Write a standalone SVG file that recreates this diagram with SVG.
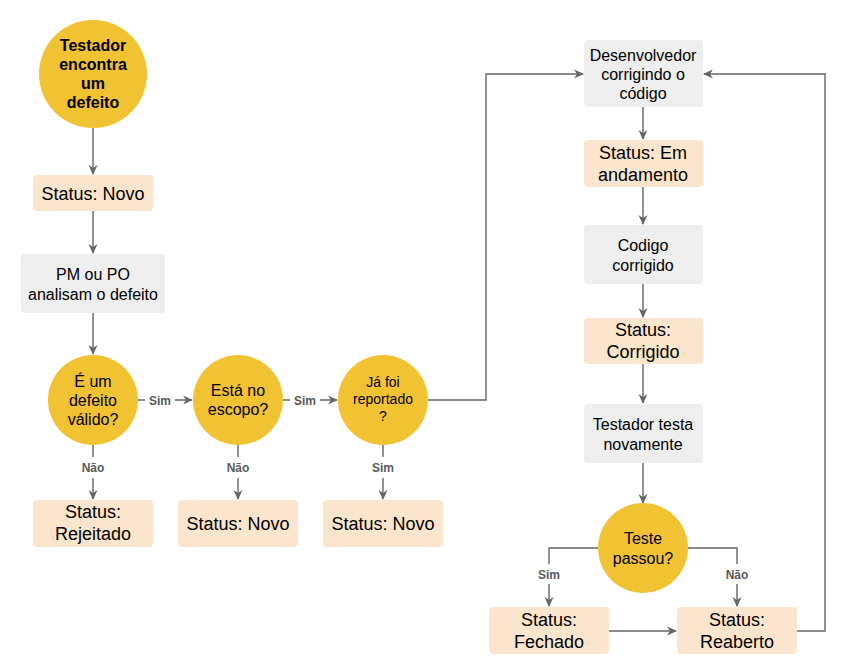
<svg xmlns="http://www.w3.org/2000/svg" width="850" height="672" viewBox="0 0 850 672">
<defs>
<style>
.dec{fill:#f1c232}
.st{fill:#fce5cd}
.gr{fill:#eeeeee}
text{font-family:"Liberation Sans",Arial,sans-serif;fill:#000;text-anchor:middle}
.b16{font-size:16px;font-weight:bold}
.t16{font-size:16px}
.t18{font-size:18px}
.t14{font-size:14px}
.lbl{font-size:12px;font-weight:bold;fill:#595959}
.c{fill:none;stroke:#666666;stroke-width:1.4}
</style>
<marker id="ar" viewBox="0 0 10 10" refX="9" refY="5" markerWidth="10" markerHeight="10" markerUnits="userSpaceOnUse" orient="auto">
<path d="M0,0.5 L10,5 L0,9.5 L3,5 Z" fill="#666666"/>
</marker>
</defs>
<rect width="850" height="672" fill="#ffffff"/>

<g id="connectors">
<path class="c" d="M93,128 V174" marker-end="url(#ar)"/>
<path class="c" d="M93,211 V253" marker-end="url(#ar)"/>
<path class="c" d="M93,313 V354" marker-end="url(#ar)"/>
<path class="c" d="M138,400 H145 M175,400 H192" marker-end="url(#ar)"/>
<path class="c" d="M283,400 H290 M320,400 H337" marker-end="url(#ar)"/>
<path class="c" d="M93,445 V457 M93,478 V499" marker-end="url(#ar)"/>
<path class="c" d="M238,445 V457 M238,478 V499" marker-end="url(#ar)"/>
<path class="c" d="M383,445 V457 M383,478 V499" marker-end="url(#ar)"/>
<path class="c" d="M428,400 H486 V74 H583" marker-end="url(#ar)"/>
<path class="c" d="M643,107 V139" marker-end="url(#ar)"/>
<path class="c" d="M643,187 V224" marker-end="url(#ar)"/>
<path class="c" d="M643,284 V317" marker-end="url(#ar)"/>
<path class="c" d="M643,364 V403" marker-end="url(#ar)"/>
<path class="c" d="M643,463 V503" marker-end="url(#ar)"/>
<path class="c" d="M598,548 H549 V564 M549,584 V606" marker-end="url(#ar)"/>
<path class="c" d="M688,548 H737 V564 M737,584 V606" marker-end="url(#ar)"/>
<path class="c" d="M609,631 H676" marker-end="url(#ar)"/>
<path class="c" d="M797,631 H825 V74 H704" marker-end="url(#ar)"/>
<text class="lbl" x="160" y="404.5">Sim</text>
<text class="lbl" x="305" y="404.5">Sim</text>
<text class="lbl" x="93" y="472">Não</text>
<text class="lbl" x="238" y="472">Não</text>
<text class="lbl" x="383" y="472">Sim</text>
<text class="lbl" x="549" y="578.5">Sim</text>
<text class="lbl" x="737" y="578.5">Não</text>
</g>

<g id="start">
<circle class="dec" cx="93" cy="74" r="54"/>
<text class="b16" x="93" y="51">Testador</text>
<text class="b16" x="93" y="70">encontra</text>
<text class="b16" x="93" y="89">um</text>
<text class="b16" x="93" y="108">defeito</text>
</g>
<g id="status-novo-1">
<rect class="st" x="33" y="175" width="120" height="36" rx="4"/>
<text class="t18" x="93" y="199.5">Status: Novo</text>
</g>
<g id="pm-po">
<rect class="gr" x="21" y="254" width="144" height="59" rx="4"/>
<text class="t16" x="93" y="280">PM ou PO</text>
<text class="t16" x="93" y="300">analisam o defeito</text>
</g>
<g id="valido">
<circle class="dec" cx="93" cy="400" r="45"/>
<text class="t16" x="93" y="387">É um</text>
<text class="t16" x="93" y="406">defeito</text>
<text class="t16" x="93" y="425">válido?</text>
</g>
<g id="escopo">
<circle class="dec" cx="238" cy="400" r="45"/>
<text class="t16" x="238" y="396">Está no</text>
<text class="t16" x="238" y="415">escopo?</text>
</g>
<g id="reportado">
<circle class="dec" cx="383" cy="400" r="45"/>
<text class="t14" x="383" y="387">Já foi</text>
<text class="t14" x="383" y="404">reportado</text>
<text class="t14" x="383" y="421">?</text>
</g>
<g id="rejeitado">
<rect class="st" x="33" y="500" width="120" height="47" rx="4"/>
<text class="t18" x="93" y="518">Status:</text>
<text class="t18" x="93" y="540">Rejeitado</text>
</g>
<g id="status-novo-2">
<rect class="st" x="178" y="500" width="120" height="47" rx="4"/>
<text class="t18" x="238" y="530">Status: Novo</text>
</g>
<g id="status-novo-3">
<rect class="st" x="323" y="500" width="120" height="47" rx="4"/>
<text class="t18" x="383" y="530">Status: Novo</text>
</g>
<g id="desenvolvedor">
<rect class="gr" x="584" y="40" width="119" height="67" rx="4"/>
<text class="t16" x="643" y="61">Desenvolvedor</text>
<text class="t16" x="643" y="80">corrigindo o</text>
<text class="t16" x="643" y="99">código</text>
</g>
<g id="em-andamento">
<rect class="st" x="584" y="140" width="119" height="47" rx="4"/>
<text class="t18" x="643" y="159">Status: Em</text>
<text class="t18" x="643" y="181">andamento</text>
</g>
<g id="codigo-corrigido">
<rect class="gr" x="584" y="225" width="119" height="59" rx="4"/>
<text class="t16" x="643" y="251">Codigo</text>
<text class="t16" x="643" y="271">corrigido</text>
</g>
<g id="status-corrigido">
<rect class="st" x="584" y="318" width="119" height="46" rx="4"/>
<text class="t18" x="643" y="336">Status:</text>
<text class="t18" x="643" y="358">Corrigido</text>
</g>
<g id="testador-testa">
<rect class="gr" x="584" y="404" width="119" height="59" rx="4"/>
<text class="t16" x="643" y="430">Testador testa</text>
<text class="t16" x="643" y="450">novamente</text>
</g>
<g id="teste-passou">
<circle class="dec" cx="643" cy="548" r="45"/>
<text class="t16" x="643" y="544">Teste</text>
<text class="t16" x="643" y="564">passou?</text>
</g>
<g id="fechado">
<rect class="st" x="489" y="607" width="120" height="47" rx="4"/>
<text class="t18" x="549" y="626">Status:</text>
<text class="t18" x="549" y="648">Fechado</text>
</g>
<g id="reaberto">
<rect class="st" x="677" y="607" width="120" height="47" rx="4"/>
<text class="t18" x="737" y="626">Status:</text>
<text class="t18" x="737" y="648">Reaberto</text>
</g>
</svg>
